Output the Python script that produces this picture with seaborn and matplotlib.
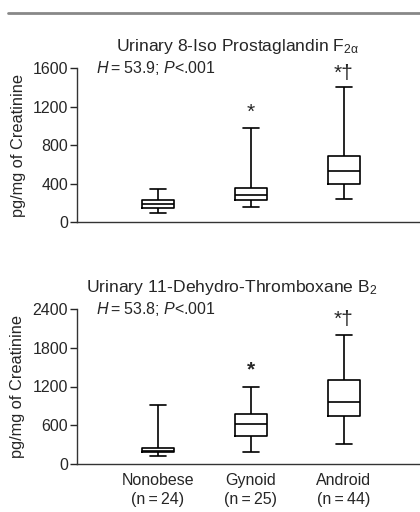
import matplotlib
matplotlib.use("Agg")
import matplotlib.pyplot as plt
from matplotlib.lines import Line2D
import seaborn as sns
import pandas as pd

groups = ["Nonobese", "Gynoid", "Android"]
group_labels = ["Nonobese\n(n\u2009=\u200924)", "Gynoid\n(n\u2009=\u200925)", "Android\n(n\u2009=\u200944)"]

# Panel 1: Urinary 8-Iso Prostaglandin F2alpha (pg/mg creatinine)
iso_min = [100, 160, 240]
iso_q1 = [150, 230, 400]
iso_med = [190, 280, 530]
iso_q3 = [230, 360, 690]
iso_max = [350, 980, 1400]

# Panel 2: Urinary 11-Dehydro-Thromboxane B2
tx_min = [125, 195, 320]
tx_q1 = [185, 430, 740]
tx_med = [200, 620, 960]
tx_q3 = [255, 770, 1300]
tx_max = [920, 1200, 2000]

iso_marks = ["", "*", "*\u2020"]
iso_mark_y = [0, 1140, 1545]
tx_marks = ["", "*", "*\u2020"]
tx_mark_y = [0, 1450, 2230]

sns.set_style("ticks")
plt.rcParams["font.family"] = ["Liberation Sans", "DejaVu Sans"]
plt.rcParams["mathtext.fontset"] = "custom"
plt.rcParams["mathtext.rm"] = "Liberation Sans"
plt.rcParams["mathtext.it"] = "Liberation Sans:italic"
plt.rcParams["mathtext.bf"] = "Liberation Sans:bold"

TXT = "#262626"

def long_df(mins, q1s, meds, q3s, maxs):
    rows = []
    for g, a, b, c, d, e in zip(groups, mins, q1s, meds, q3s, maxs):
        for v in (a, b, c, d, e):
            rows.append({"group": g, "value": v})
    return pd.DataFrame(rows)

fig = plt.figure(figsize=(4.2, 5.12), dpi=100)
W, H = 420, 512
def ax_rect(left, top, right, bottom):
    return [left / W, 1 - bottom / H, (right - left) / W, (bottom - top) / H]

ax1 = fig.add_axes(ax_rect(77, 68, 420, 222.3))
ax2 = fig.add_axes(ax_rect(77, 308.7, 420, 464.3))

panels = [
    (ax1, long_df(iso_min, iso_q1, iso_med, iso_q3, iso_max), 1600, [0, 400, 800, 1200, 1600],
     "Urinary 8-Iso Prostaglandin F$_{\\mathrm{2\u03b1}}$", 0.469,
     "$\\it{H}$\u2009=\u200953.9; $\\it{P}$<.001", iso_marks, iso_mark_y, "normal"),
    (ax2, long_df(tx_min, tx_q1, tx_med, tx_q3, tx_max), 2400, [0, 600, 1200, 1800, 2400],
     "Urinary 11-Dehydro-Thromboxane B$_2$", 0.452,
     "$\\it{H}$\u2009=\u200953.8; $\\it{P}$<.001", tx_marks, tx_mark_y, "bold"),
]

for ax, df, ymax, yt, title, tx, stat, marks, marky, gyn_weight in panels:
    sns.boxplot(data=df, x="group", y="value", order=groups, whis=(0, 100),
                width=0.344, fill=False, color="black", linewidth=1.2,
                showfliers=False, ax=ax)
    ax.set_xlim(-0.87, 2.82)
    ax.set_ylim(0, ymax)
    ax.set_yticks(yt)
    ax.set_ylabel("pg/mg of Creatinine", fontsize=11.8, color=TXT, labelpad=5)
    ax.set_xlabel("")
    sns.despine(ax=ax)
    for s in ("left", "bottom"):
        ax.spines[s].set_color("#333333")
        ax.spines[s].set_linewidth(1.0)
    ax.tick_params(axis="y", labelsize=11.5, colors=TXT, length=5, width=1.0, pad=1.5)
    ax.tick_params(axis="x", length=0, labelsize=11.5, colors=TXT, pad=6)
    ax.set_title(title, fontsize=12.6, color=TXT, pad=12)
    ax.title.set_x(tx)
    ax.text(-0.667, ymax, stat, fontsize=11.5, color=TXT, ha="left", va="center")
    for i, (m, y) in enumerate(zip(marks, marky)):
        if m:
            w = gyn_weight if i == 1 else "normal"
            ax.text(i, y, m, fontsize=15, color=TXT, ha="center", va="center", fontweight=w)

ax1.set_xticklabels([])
ax2.set_xticks(range(len(groups)))
ax2.set_xticklabels(group_labels, linespacing=1.35)

fig.add_artist(Line2D([8 / W, 1.0], [1 - 13 / H, 1 - 13 / H], color="#888888", linewidth=2.0))

fig.savefig("out.png", dpi=100)
